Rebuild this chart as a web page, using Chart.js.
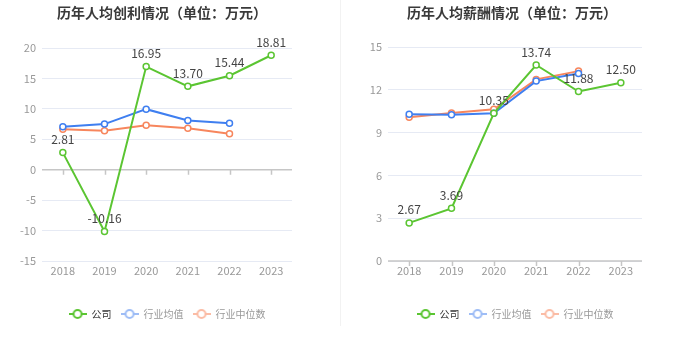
<!DOCTYPE html>
<html>
<head>
<meta charset="utf-8">
<script src="https://cdn.jsdelivr.net/npm/chart.js@4.4.0/dist/chart.umd.min.js"></script>
<style>
  body { margin: 0; background: #fff; font-family: "Noto Sans CJK SC", sans-serif; }
  .box { position: absolute; top: 0; width: 340px; height: 349px; }
  .title { position: absolute; top: 3px; width: 260px; font-size: 14px; line-height: 18px; font-weight: bold; color: #3a3a3a; text-align: center; white-space: nowrap; }
  #sep { position: absolute; left: 340px; top: 0; width: 1px; height: 326px; background: #f2f2f2; }
</style>
</head>
<body>
<div class="box" style="left:0"><canvas id="c1"></canvas></div>
<div id="sep"></div>
<div class="box" style="left:340px"><canvas id="c2"></canvas></div>
<div class="title" style="left:32px">历年人均创利情况（单位：万元）</div>
<div class="title" style="left:382px">历年人均薪酬情况（单位：万元）</div>
<script>
var years = ['2018', '2019', '2020', '2021', '2022', '2023'];
var seriesNames = ['公司', '行业均值', '行业中位数'];

// 人均创利
var profitCompany = [2.81, -10.16, 16.95, 13.70, 15.44, 18.81];
var profitAvg = [7.05, 7.5, 9.95, 8.1, 7.65, null];
var profitMedian = [6.65, 6.4, 7.3, 6.8, 5.9, null];
var profitTicks = [-15, -10, -5, 0, 5, 10, 15, 20];

// 人均薪酬
var salaryCompany = [2.67, 3.69, 10.35, 13.74, 11.88, 12.50];
var salaryAvg = [10.28, 10.25, 10.35, 12.61, 13.15, null];
var salaryMedian = [10.07, 10.37, 10.63, 12.73, 13.31, null];
var salaryTicks = [0, 3, 6, 9, 12, 15];

var GREEN = '#5bc532', BLUE = '#3f7ff0', ORANGE = '#f7865d';
var legendLook = [
  { color: GREEN, text: '#333' },
  { color: '#9ebdf6', text: '#999' },
  { color: '#fbbca5', text: '#999' }
];

function legendIcon(color) {
  var c = document.createElement('canvas');
  c.width = 18; c.height = 12;
  var g = c.getContext('2d');
  g.strokeStyle = color; g.lineWidth = 2;
  g.beginPath(); g.moveTo(0, 6); g.lineTo(18, 6); g.stroke();
  g.beginPath(); g.arc(9, 6, 4, 0, Math.PI * 2);
  g.fillStyle = '#fff'; g.fill(); g.stroke();
  return c;
}

var valueLabels = {
  id: 'valueLabels',
  afterDatasetsDraw: function (chart) {
    var ctx = chart.ctx, ds = chart.data.datasets[0];
    ctx.save();
    ctx.font = '12px "Noto Sans CJK SC", sans-serif';
    ctx.fillStyle = '#444';
    ctx.textAlign = 'center';
    ctx.textBaseline = 'middle';
    chart.getDatasetMeta(0).data.forEach(function (p, i) {
      if (ds.data[i] == null) return;
      ctx.fillText(ds.data[i].toFixed(2), p.x, p.y - 13);
    });
    ctx.restore();
  }
};

var zeroAxis = {
  id: 'zeroAxis',
  beforeDatasetsDraw: function (chart) {
    var ctx = chart.ctx, xs = chart.scales.x, y0 = chart.scales.y.getPixelForValue(0);
    ctx.save();
    ctx.strokeStyle = '#c6c6c6';
    ctx.lineWidth = 1.5;
    ctx.beginPath();
    ctx.moveTo(chart.chartArea.left, y0);
    ctx.lineTo(chart.chartArea.right, y0);
    for (var i = 0; i < years.length; i++) {
      var px = Math.round(xs.getPixelForValue(i)) + 0.5;
      ctx.moveTo(px, y0);
      ctx.lineTo(px, y0 + 5);
    }
    ctx.stroke();
    ctx.restore();
  }
};

function line(label, data, color) {
  return {
    label: label,
    data: data,
    borderColor: color,
    backgroundColor: '#fff',
    borderWidth: 2,
    pointRadius: 3,
    pointBorderWidth: 1.5,
    pointBackgroundColor: '#fff',
    pointBorderColor: color,
    tension: 0,
    spanGaps: false
  };
}

function makeChart(id, comp, avg, med, ticks, yWidth, padRight, padTop) {
  return new Chart(document.getElementById(id), {
    type: 'line',
    data: {
      labels: years,
      datasets: [
        line(seriesNames[0], comp, GREEN),
        line(seriesNames[1], avg, BLUE),
        line(seriesNames[2], med, ORANGE)
      ]
    },
    options: {
      responsive: true,
      maintainAspectRatio: false,
      animation: false,
      events: [],
      layout: { padding: { left: 0, right: padRight, top: padTop, bottom: 20 } },
      scales: {
        x: {
          offset: true,
          grid: { display: false, drawTicks: false },
          border: { display: false },
          ticks: { color: '#999', font: { size: 11, family: '"Noto Sans CJK SC", sans-serif' }, padding: 3 },
          afterFit: function (s) { s.height = 39; }
        },
        y: {
          min: ticks[0],
          max: ticks[ticks.length - 1],
          afterBuildTicks: function (s) { s.ticks = ticks.map(function (v) { return { value: v }; }); },
          grid: { color: '#e6eaf4', drawTicks: false },
          border: { display: false },
          ticks: { color: '#999', font: { size: 11, family: '"Noto Sans CJK SC", sans-serif' }, padding: 6 },
          afterFit: function (s) { s.width = yWidth; }
        }
      },
      plugins: {
        legend: {
          position: 'bottom',
          fullSize: false,
          labels: {
            usePointStyle: true,
            pointStyleWidth: 18,
            padding: 9,
            font: { size: 10, family: '"Noto Sans CJK SC", sans-serif' },
            generateLabels: function (chart) {
              return chart.data.datasets.map(function (d, i) {
                return {
                  text: d.label,
                  pointStyle: legendIcon(legendLook[i].color),
                  fontColor: legendLook[i].text,
                  strokeStyle: 'transparent',
                  fillStyle: 'transparent',
                  lineWidth: 0,
                  datasetIndex: i
                };
              });
            }
          }
        },
        tooltip: { enabled: false }
      }
    },
    plugins: [zeroAxis, valueLabels]
  });
}

makeChart('c1', profitCompany, profitAvg, profitMedian, profitTicks, 42, 48, 48);
makeChart('c2', salaryCompany, salaryAvg, salaryMedian, salaryTicks, 48, 38, 47);
</script>
</body>
</html>
